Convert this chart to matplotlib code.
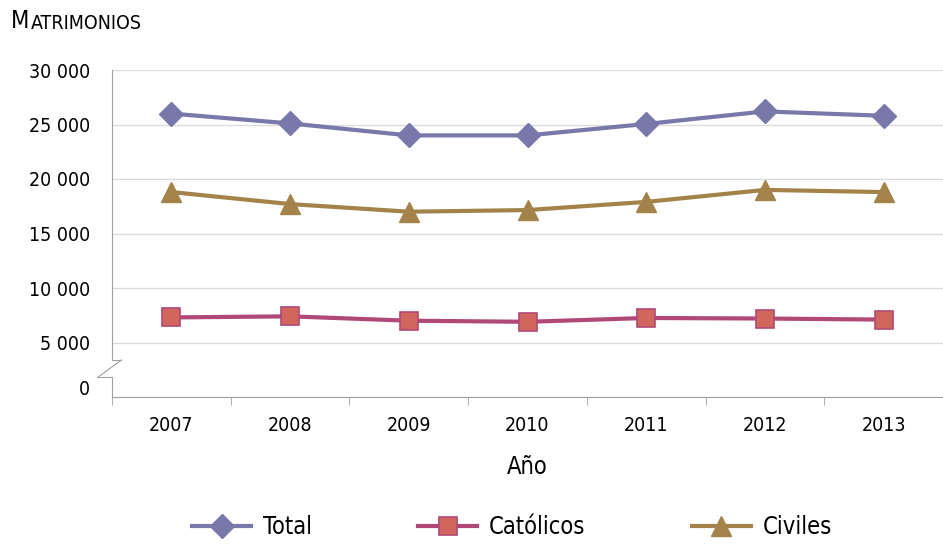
import numpy as np
import matplotlib
matplotlib.use("Agg")
import matplotlib.pyplot as plt
from matplotlib.lines import Line2D

plt.rcParams['font.family'] = ['DejaVu Sans']
plt.rcParams['font.stretch'] = 'condensed'

years = ['2007', '2008', '2009', '2010', '2011', '2012', '2013']
total = [26000, 25100, 24000, 24000, 25050, 26200, 25800]
catolicos = [7300, 7400, 7000, 6900, 7250, 7200, 7100]
civiles = [18800, 17700, 17000, 17150, 17900, 19000, 18800]
ytick_vals = [900, 5000, 10000, 15000, 20000, 25000, 30000]
ytick_labels = ['0', '5 000', '10 000', '15 000', '20 000', '25 000', '30 000']

c_total = '#7878aa'
c_cat_line = '#b04878'
c_cat_face = '#d0665c'
c_civ = '#a3834a'

fig = plt.figure(figsize=(9.43, 5.45), dpi=100)
ax = fig.add_axes([112/943, 1 - 397/545, 1 - 112/943, 327/545])

x = np.arange(len(years))
ax.plot(x, total, color=c_total, lw=3, marker='D', ms=12, mfc=c_total, mec=c_total, label='Total')
ax.plot(x, catolicos, color=c_cat_line, lw=3, marker='s', ms=13, mfc=c_cat_face, mec=c_cat_line, mew=1.2, label='Católicos')
ax.plot(x, civiles, color=c_civ, lw=3, marker='^', ms=15, mfc=c_civ, mec=c_civ, label='Civiles')

ax.set_xlim(-0.5, len(years) - 0.5)
ax.set_ylim(0, 30000)

ax.set_xticks(x)
ax.set_xticklabels(years, fontsize=14)
ax.set_xticks(np.arange(-0.5, len(years)), minor=True)
ax.tick_params(axis='x', which='major', length=0, pad=14)
ax.tick_params(axis='x', which='minor', length=6, color='#a0a0a0', direction='out')

ax.set_yticks(ytick_vals)
ax.set_yticklabels(ytick_labels, fontsize=14)
ax.tick_params(axis='y', length=0, pad=16)

for v in ytick_vals[1:]:
    ax.axhline(v, color='#dcdcdc', lw=1, zorder=0)

for s in ['top', 'right']:
    ax.spines[s].set_visible(False)
ax.spines['left'].set_color('#a0a0a0')
ax.spines['bottom'].set_color('#a0a0a0')

# axis break mark
ax.add_patch(plt.Rectangle((-0.51, 1850), 0.02, 1500, color='white', clip_on=False, zorder=3))
ax.plot([-0.62, -0.5], [1800, 1800], color='#a0a0a0', lw=0.8, clip_on=False, zorder=4)
ax.plot([-0.62, -0.42], [1800, 3400], color='#a0a0a0', lw=0.8, clip_on=False, zorder=4)
ax.plot([-0.5, -0.42], [3400, 3400], color='#a0a0a0', lw=0.8, clip_on=False, zorder=4)

ax.set_xlabel('Año', fontsize=17, labelpad=14)

t1 = fig.text(11/943, 1 - 28/545, 'M', fontsize=17, ha='left', va='baseline')
ax.annotate('ATRIMONIOS', xy=(1, 0), xycoords=t1, xytext=(1, 0), textcoords='offset points',
            fontsize=14, ha='left', va='bottom', annotation_clip=False)

handles = [
    Line2D([], [], color=c_total, lw=3, marker='D', ms=12, mfc=c_total, mec=c_total),
    Line2D([], [], color=c_cat_line, lw=3, marker='s', ms=13, mfc=c_cat_face, mec=c_cat_line, mew=1.2),
    Line2D([], [], color=c_civ, lw=3, marker='^', ms=15, mfc=c_civ, mec=c_civ),
]
fig.legend(handles, ['Total', 'Católicos', 'Civiles'], loc='center', bbox_to_anchor=(512/943, 1 - 527/545),
           ncol=3, frameon=False, fontsize=17, handlelength=2.5, handletextpad=0.5, columnspacing=4.5)

fig.savefig('out.png', dpi=100)
